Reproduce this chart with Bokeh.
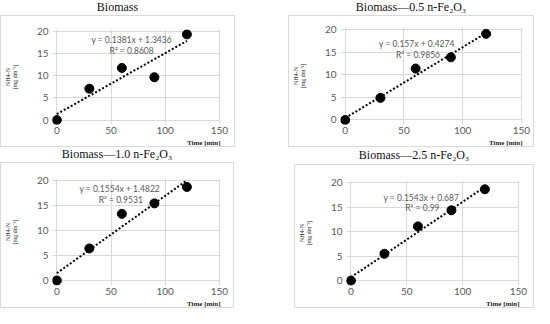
from bokeh.plotting import figure
from bokeh.models import Range1d, FixedTicker, Label, Title, Spacer, Div
from bokeh.layouts import row, column
from bokeh.embed import file_html
from bokeh.resources import INLINE
import numpy as np

# ---------------- data ----------------
titles = ["Biomass", "Biomass\u20140.5 n-Fe\u2082O\u2083",
          "Biomass\u20141.0 n-Fe\u2082O\u2083", "Biomass\u20142.5 n-Fe\u2082O\u2083"]
time_min = [0, 30, 60, 90, 120]
nh4_biomass = [0, 7.1, 11.8, 9.7, 19.4]
nh4_fe05 = [0, 4.9, 11.4, 13.9, 19.1]
nh4_fe10 = [0, 6.45, 13.4, 15.5, 18.8]
nh4_fe25 = [0, 5.5, 11.1, 14.4, 18.7]
slopes = [0.1381, 0.157, 0.1554, 0.1543]
intercepts = [1.3436, 0.4274, 1.4822, 0.687]
eq_texts = ["y = 0.1381x + 1.3436", "y = 0.157x + 0.4274",
            "y = 0.1554x + 1.4822", "y = 0.1543x + 0.687"]
r2_texts = ["R\u00b2 = 0.8608", "R\u00b2 = 0.9856", "R\u00b2 = 0.9531", "R\u00b2 = 0.99"]
x_ticks = [0, 50, 100, 150]
y_ticks = [0, 5, 10, 15, 20]
series = [nh4_biomass, nh4_fe05, nh4_fe10, nh4_fe25]

# ---------------- layout/style ----------------
# W,H: outer box size (incl. 1px border); dh: title block height
# l,r,t,b: frame borders inside the box
panels = [
    dict(W=235, H=132, dh=15, l=44, r=15, t=14, b=21, eq=(69, 18.2), r2=(69, 15.7)),
    dict(W=246, H=132, dh=15, l=49, r=12, t=12, b=20, eq=(61, 16.8), r2=(62, 14.4)),
    dict(W=234, H=146, dh=15, l=45, r=14, t=16, b=19, eq=(58, 18.4), r2=(59, 16.2)),
    dict(W=240, H=144, dh=17, l=46, r=15, t=16, b=19, eq=(63, 16.9), r2=(64, 14.9)),
]

GRID = "#d9d9d9"
TICK = "#595959"


def make_panel(i):
    cfg = panels[i]
    p = figure(width=cfg["W"] - 2, height=cfg["H"] - 2, output_backend="svg",
               toolbar_location=None, title=None,
               x_range=Range1d(-4, 151), y_range=Range1d(-1, 20.5),
               min_border_left=cfg["l"] - 1, min_border_right=cfg["r"] - 1,
               min_border_top=cfg["t"] - 1, min_border_bottom=cfg["b"] - 1)
    p.background_fill_color = "white"
    p.border_fill_color = "white"
    p.outline_line_color = None

    for ax, ticks in ((p.xaxis, x_ticks), (p.yaxis, y_ticks)):
        ax.ticker = FixedTicker(ticks=ticks)
        ax.axis_line_color = None
        ax.major_tick_line_color = None
        ax.minor_tick_line_color = None
        ax.major_tick_out = 0
        ax.major_tick_in = 0
        ax.major_label_text_font = "Lato"
        ax.major_label_text_font_size = "10px"
        ax.major_label_text_color = TICK
        ax.major_label_standoff = 4
    p.xaxis.major_label_standoff = 2
    p.xaxis.axis_label = None

    p.yaxis.axis_label = "NH4-N\n[mg dm\u207b\u00b3]"
    p.yaxis.axis_label_text_font = "Liberation Serif"
    p.yaxis.axis_label_text_font_size = "6px"
    p.yaxis.axis_label_text_font_style = "normal"
    p.yaxis.axis_label_text_color = "#262626"
    p.yaxis.axis_label_standoff = 16

    p.xgrid.ticker = FixedTicker(ticks=x_ticks)
    p.ygrid.ticker = FixedTicker(ticks=y_ticks)
    for g in (p.xgrid[0], p.ygrid[0]):
        g.grid_line_color = GRID
        g.grid_line_width = 1

    t = Title(text="Time [min]", align="right", text_font="Liberation Serif",
              text_font_size="7px", text_font_style="bold", text_color="#262626")
    try:
        t.standoff = 0
    except Exception:
        pass
    p.add_layout(t, "below")

    xs = np.array([time_min[0], time_min[-1]], dtype=float)
    ys = slopes[i] * xs + intercepts[i]
    p.line(xs, ys, line_color="black", line_width=2, line_dash="2 2")
    p.scatter(time_min, series[i], size=9, color="black")

    for txt, pos in ((eq_texts[i], cfg["eq"]), (r2_texts[i], cfg["r2"])):
        p.add_layout(Label(x=pos[0], y=pos[1], text=txt, text_align="center",
                           text_baseline="middle", text_font="Lato",
                           text_font_size="8.5px", text_color=TICK))

    head = Div(text=titles[i], width=cfg["W"], height=cfg["dh"], margin=0,
               styles={"font-family": "'Liberation Serif'", "font-size": "12px",
                       "text-align": "center", "color": "#111111",
                       "line-height": "%dpx" % cfg["dh"], "width": "%dpx" % cfg["W"],
                       "white-space": "nowrap"})
    body = column(p, styles={"border": "1px solid " + GRID}, spacing=0)
    return column(head, body, spacing=0)


ps = [make_panel(i) for i in range(4)]
layout = column(
    row(ps[0], Spacer(width=53, height=10), ps[1], spacing=0),
    row(ps[2], Spacer(width=60, height=10), ps[3], spacing=0),
    spacing=0,
)

open("out.html", "w").write(file_html(layout, INLINE))
